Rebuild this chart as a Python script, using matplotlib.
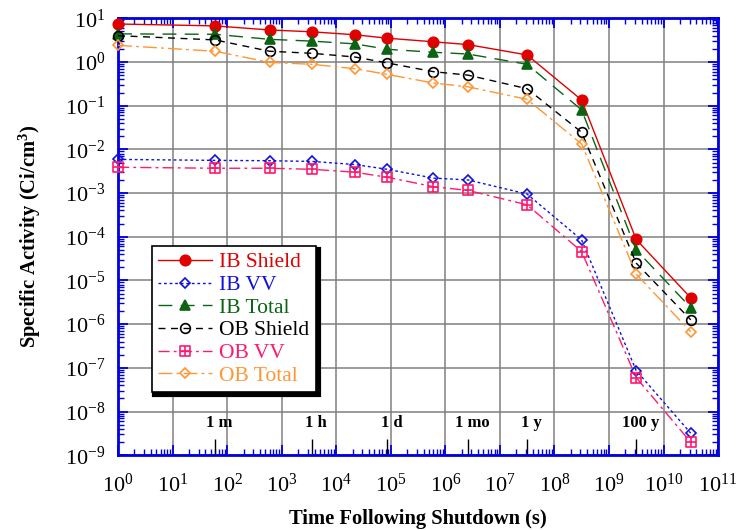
import matplotlib
matplotlib.use("Agg")
import matplotlib.pyplot as plt
import matplotlib.ticker as ticker
from matplotlib.path import Path

plt.rcParams['font.family'] = ['Liberation Serif', 'DejaVu Serif']
plt.rcParams['mathtext.fontset'] = 'custom'
plt.rcParams['mathtext.rm'] = 'Liberation Serif'
plt.rcParams['mathtext.it'] = 'Liberation Serif:italic'
plt.rcParams['mathtext.bf'] = 'Liberation Serif:bold'
plt.rcParams['axes.unicode_minus'] = False

# time after shutdown (s): 1 s, 1 m, 10 m, 1 h, 6 h, 1 d, 1 wk, 1 mo, 1 y, 10 y, 100 y, 1000 y
times = [1, 60, 600, 3600, 2.2e4, 8.64e4, 6.05e5, 2.6e6, 3.15e7, 3.15e8, 3.15e9, 3.15e10]

ib_shield = [7.4, 6.7, 5.4, 4.9, 4.2, 3.5, 2.9, 2.5, 1.45, 0.135, 8.7e-5, 4.0e-6]
ib_vv = [5.9e-3, 5.6e-3, 5.5e-3, 5.3e-3, 4.5e-3, 3.5e-3, 2.2e-3, 2.0e-3, 9.5e-4, 8.5e-5, 8.7e-8, 3.2e-9]
ib_total = [4.4, 4.3, 3.3, 3.0, 2.6, 1.95, 1.67, 1.52, 0.885, 0.08, 5.0e-5, 2.4e-6]
ob_shield = [4.0, 3.2, 1.76, 1.58, 1.3, 0.95, 0.6, 0.5, 0.245, 0.0246, 2.5e-5, 1.26e-6]
ob_vv = [3.9e-3, 3.7e-3, 3.7e-3, 3.5e-3, 3.0e-3, 2.3e-3, 1.4e-3, 1.15e-3, 5.4e-4, 4.6e-5, 6.0e-8, 2.0e-9]
ob_total = [2.4, 1.76, 0.98, 0.885, 0.7, 0.52, 0.33, 0.27, 0.14, 0.0133, 1.4e-5, 6.7e-7]

# reference marks along the bottom of the plot
mark_labels = ['1 m', '1 h', '1 d', '1 mo', '1 y', '100 y']
mark_times = [60, 3600, 8.64e4, 2.6e6, 3.15e7, 3.15e9]

# square with a plus inside
boxplus = Path([(-1, -1), (1, -1), (1, 1), (-1, 1), (-1, -1), (0, -1), (0, 1), (-1, 0), (1, 0)],
               [Path.MOVETO, Path.LINETO, Path.LINETO, Path.LINETO, Path.CLOSEPOLY,
                Path.MOVETO, Path.LINETO, Path.MOVETO, Path.LINETO])

fig = plt.figure(figsize=(7.38, 5.30), dpi=100)
ax = fig.add_axes([0.160, 0.141, 0.813, 0.8245])

series = [
    ('IB Shield', ib_shield, '#e00000', '-', 'o', 7.5, True),
    ('IB VV', ib_vv, '#1010e0', (0, (2, 2)), 'D', 4.8, False),
    ('IB Total', ib_total, '#0a6414', (0, (10, 6)), '^', 7.5, True),
    ('OB Shield', ob_shield, 'black', (0, (5, 4)), 'o', 7, False),
    ('OB VV', ob_vv, '#ff1a6e', (0, (8, 3, 2, 3)), boxplus, 7, False),
    ('OB Total', ob_total, '#ff9633', (0, (10, 3, 2, 3)), 'D', 5.2, False),
]

for name, vals, col, ls, mk, ms, filled in series:
    ax.plot(times, vals, color=col, linestyle=ls, linewidth=1.0, marker=mk, markersize=ms,
            markerfacecolor=col if filled else 'none', markeredgecolor=col,
            markeredgewidth=1.2, label=name, clip_on=False, zorder=3)

ax.set_xscale('log')
ax.set_yscale('log')
ax.set_xlim(1, 1e11)
ax.set_ylim(1e-9, 10)

ax.xaxis.set_major_locator(ticker.LogLocator(base=10, numticks=20))
ax.xaxis.set_minor_locator(ticker.LogLocator(base=10, subs=range(2, 10), numticks=20))
ax.yaxis.set_major_locator(ticker.LogLocator(base=10, numticks=20))
ax.yaxis.set_minor_locator(ticker.LogLocator(base=10, subs=range(2, 10), numticks=20))
ax.xaxis.set_minor_formatter(ticker.NullFormatter())
ax.yaxis.set_minor_formatter(ticker.NullFormatter())

ax.grid(True, which='major', color='#808080', linewidth=1.1)
ax.set_axisbelow(True)
for s in ax.spines.values():
    s.set_color('#0000e0')
    s.set_linewidth(2.0)
ax.tick_params(which='both', direction='in', top=True, right=True, color='#0000e0')
ax.tick_params(which='major', length=7, width=1.3, labelsize=16)
ax.tick_params(axis='x', which='major', pad=13)
ax.tick_params(axis='y', which='major', pad=9)
ax.tick_params(which='minor', length=4, width=1.0)

ax.set_xlabel('Time Following Shutdown (s)', fontsize=14.8, fontweight='bold', labelpad=9)
ax.set_ylabel('Specific Activity (Ci/cm$^\\mathbf{3}$)', fontsize=14.8, fontweight='bold', labelpad=16)

ax.vlines(mark_times, 1e-9, 2.3e-9, color='black', linewidth=1.0, zorder=2)
for lab, t in zip(mark_labels, mark_times):
    ax.annotate(lab, (t, 3.6e-9), xytext=(3, 0), textcoords='offset points',
                ha='center', va='bottom', fontsize=12, fontweight='bold')

leg = ax.legend(loc='upper left', bbox_to_anchor=(0.056, 0.479), borderaxespad=0,
                fontsize=15.5, handlelength=2.5, handletextpad=0.35, labelspacing=0.12,
                borderpad=0.3, fancybox=False, framealpha=1, edgecolor='black',
                shadow={'color': 'black', 'alpha': 1, 'linewidth': 3, 'edgecolor': 'black'})
leg.get_frame().set_linewidth(1.2)
for txt, s in zip(leg.get_texts(), series):
    txt.set_color(s[2])

fig.savefig('out.png', dpi=100)
